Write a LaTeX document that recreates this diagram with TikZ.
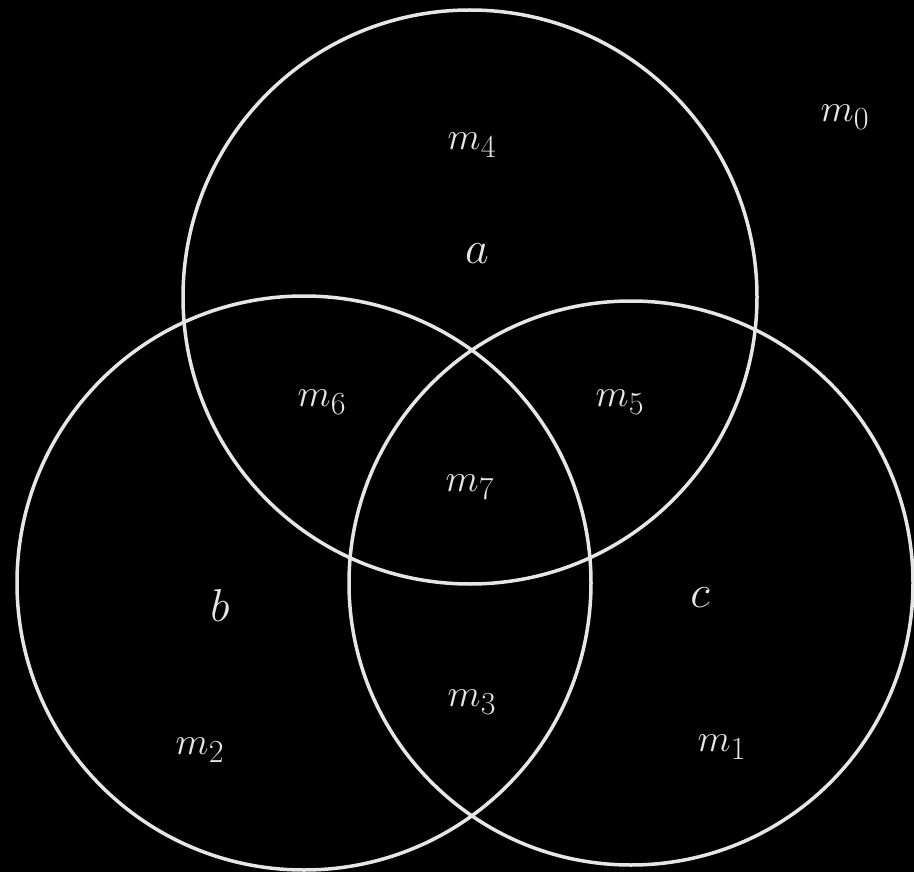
\documentclass[tikz,border=0pt]{standalone}
\usepackage{graphicx}
\definecolor{ink}{HTML}{E6E6E6}
\newcommand{\biglab}[1]{\scalebox{1.55}{\Huge$#1$}}
\newcommand{\setlab}[1]{\scalebox{1.85}{\Huge$#1$}}
\begin{document}
\begin{tikzpicture}[x=1pt,y=-1pt,
  ring/.style={circle,draw=ink,line width=3.5pt,inner sep=0pt},
  lab/.style={text=ink}]
\fill[black] (0,0) rectangle (914,872);
\useasboundingbox (0,0) rectangle (914,872);
\begin{scope}
\clip (0,0) rectangle (914,872);
\node[ring,minimum size=574pt] (A) at (470,297) {};
\node[ring,minimum size=574pt] (B) at (304,583) {};
\node[ring,minimum size=564pt] (C) at (631,583) {};
\end{scope}
\node[lab] (m0) at (845,117) {\biglab{m_0}};
\node[lab] (m4) at (472,145) {\biglab{m_4}};
\node[lab] (la) at (477,254) {\setlab{a}};
\node[lab] (m6) at (322,402) {\biglab{m_6}};
\node[lab] (m5) at (620,402) {\biglab{m_5}};
\node[lab] (m7) at (470,487) {\biglab{m_7}};
\node[lab] (lb) at (220,606) {\setlab{b}};
\node[lab] (lc) at (700,598) {\setlab{c}};
\node[lab] (m3) at (472,702) {\biglab{m_3}};
\node[lab] (m2) at (200,750) {\biglab{m_2}};
\node[lab] (m1) at (722,747) {\biglab{m_1}};
\end{tikzpicture}
\end{document}
